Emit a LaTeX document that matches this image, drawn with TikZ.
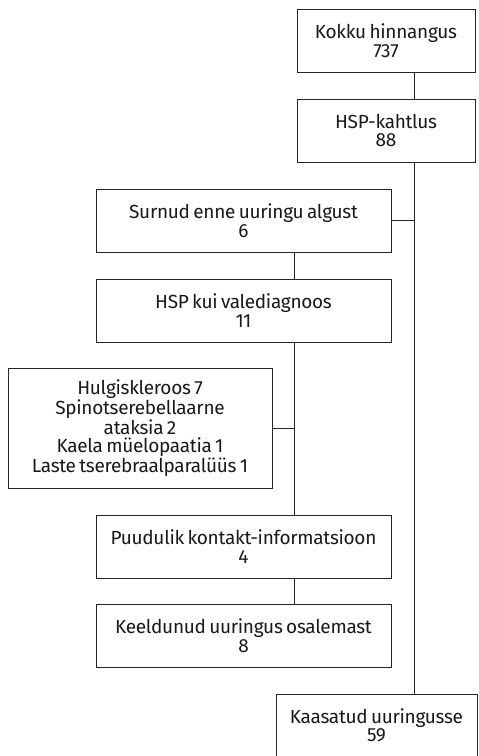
\documentclass[tikz,border=0pt]{standalone}
\usepackage{fontspec}
\setmainfont{Fira Sans}[LetterSpace=-1.5,WordSpace=0.7]
\begin{document}
\begin{tikzpicture}[x=1pt,y=-1pt,
  box/.style={draw=black!85,line width=0.9pt,fill=white,align=center,inner sep=0pt,
    font=\fontsize{19}{18.5}\selectfont,text=black!90},
  conn/.style={draw=black!85,line width=0.9pt}]
\path[use as bounding box] (0,0) rectangle (479,756);
\begin{scope}
\clip (0,0) rectangle (479,756);
\node[box,minimum width=178pt,minimum height=63pt] (kokku) at (386,40.5) {Kokku hinnangus\\737};
\node[box,minimum width=178pt,minimum height=63pt] (hsp) at (386,130.5) {HSP-kahtlus\\88};
\node[box,minimum width=295pt,minimum height=63pt] (surnud) at (243.5,220.5) {Surnud enne uuringu algust\\6};
\node[box,minimum width=295pt,minimum height=63pt] (vale) at (243.5,310.5) {HSP kui valediagnoos\\11};
\node[box,minimum width=264pt,minimum height=120pt] (hulgi) at (140,428) {Hulgiskleroos 7\\Spinotserebellaarne\\ataksia 2\\Kaela müelopaatia 1\\Laste tserebraalparalüüs 1};
\node[box,minimum width=295pt,minimum height=63pt] (puud) at (243.5,546.5) {Puudulik kontakt-informatsioon\\4};
\node[box,minimum width=295pt,minimum height=63pt] (keeld) at (243.5,635.5) {Keeldunud uuringus osalemast\\8};
\node[box,minimum width=201pt,minimum height=63pt] (kaas) at (376.5,725.5) {Kaasatud uuringusse\\59};
\coordinate (trunk) at (414,0);
\coordinate (branch) at (294,0);
\draw[conn] (kokku.south -| trunk) -- (hsp.north -| trunk);
\draw[conn] (hsp.south -| trunk) -- (kaas.north -| trunk);
\draw[conn] (surnud.east) -- (surnud.east -| trunk);
\draw[conn] (surnud.south -| branch) -- (vale.north -| branch);
\draw[conn] (vale.south -| branch) -- (puud.north -| branch);
\draw[conn] (hulgi.east) -- (hulgi.east -| branch);
\draw[conn] (puud.south -| branch) -- (keeld.north -| branch);
\end{scope}
\end{tikzpicture}
\end{document}
